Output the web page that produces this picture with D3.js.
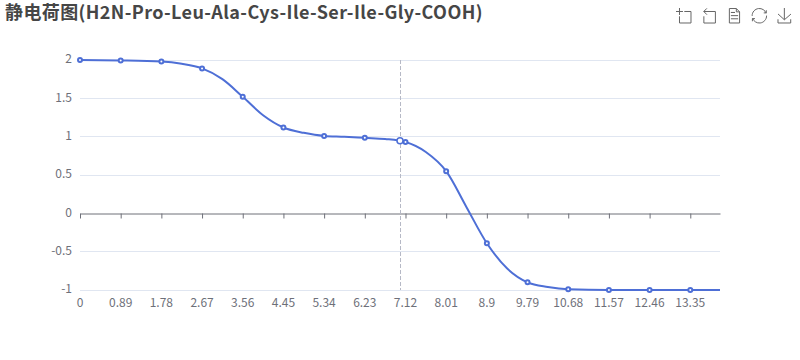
<!DOCTYPE html>
<html>
<head>
<meta charset="utf-8">
<script src="https://cdn.jsdelivr.net/npm/d3@7"></script>
<style>
  html, body { margin: 0; padding: 0; background: #fff; }
  svg { display: block; }
  text { font-family: "Noto Sans CJK SC", "Noto Sans", sans-serif; }
</style>
</head>
<body>
<svg width="800" height="360"></svg>
<script>
var titleText = "静电荷图(H2N-Pro-Leu-Ala-Cys-Ile-Ser-Ile-Gly-COOH)";

// pH positions of the curve
var phValues = [0, 0.89, 1.78, 2.225, 2.67, 3.115, 3.56, 4.005, 4.45, 4.895, 5.34, 5.785, 6.23, 6.675, 7.12, 7.565, 8.01, 8.455, 8.9, 9.345, 9.79, 10.235, 10.68, 11.57, 12.46, 13.35, 14];
var chargeValues = [2, 1.995, 1.98, 1.95, 1.89, 1.75, 1.52, 1.28, 1.12, 1.05, 1.01, 1.0, 0.985, 0.97, 0.93, 0.8, 0.55, 0.08, -0.39, -0.72, -0.9, -0.96, -0.99, -1, -1, -1, -1];

var xTicks = [0, 0.89, 1.78, 2.67, 3.56, 4.45, 5.34, 6.23, 7.12, 8.01, 8.9, 9.79, 10.68, 11.57, 12.46, 13.35];
var yTicks = [2, 1.5, 1, 0.5, 0, -0.5, -1];

var hoverPh = 7;
var hoverCharge = 0.947;

var toolIcons = [
  "M0,13.5h26.9 M13.5,26.9V0 M32.1,13.5H58V58H13.5 V32.1",
  "M22,1.4L9.9,13.5l12.3,12.3 M10.3,13.5H54.9v44.6 H10.3v-26",
  "M17.5,17.3H33 M17.5,17.3H33 M45.4,29.5h-28 M11.5,2v56H51V14.8L38.4,2H11.5z M38.4,2.2v12.7H51 M45.4,41.7h-28",
  "M3.8,33.4 M47,18.9h9.8V8.7 M56.3,20.1 C52.1,9,40.5,0.6,26.8,2.1C12.6,3.7,1.6,16.2,2.1,30.6 M13,41.1H3.1v10.2 M3.7,39.9c4.2,11.1,15.8,19.5,29.5,18 c14.2-1.6,25.2-14.1,24.7-28.5",
  "M4.7,22.9L29.3,45.5L54.7,23.4M4.6,43.6L4.6,58L53.8,58L53.8,43.6M29.2,45.1L29.2,0"
];

var svg = d3.select("svg"),
    plotLeft = 80, plotRight = 720, plotTop = 60, plotBottom = 290,
    lineColor = "#4e6fd6";

var x = d3.scaleLinear().domain([0, 14]).range([plotLeft, plotRight]);
var y = d3.scaleLinear().domain([-1, 2]).range([plotBottom, plotTop]);

svg.append("text")
    .attr("x", 5)
    .attr("y", 19)
    .attr("font-size", 18)
    .attr("font-weight", "bold")
    .attr("letter-spacing", 0.4)
    .attr("fill", "#464646")
    .text(titleText);

// toolbox
svg.selectAll(".tool")
  .data(toolIcons)
  .enter().append("path")
    .attr("class", "tool")
    .attr("d", function(d) { return d; })
    .attr("transform", function(d, i) { return "translate(" + (676 + i * 25.2) + ",8) scale(0.2586)"; })
    .attr("fill", "none")
    .attr("stroke", "#666")
    .attr("stroke-width", 1 / 0.2586);

// grid
svg.selectAll(".grid")
  .data(yTicks.filter(function(d) { return d != 0; }))
  .enter().append("line")
    .attr("class", "grid")
    .attr("x1", plotLeft)
    .attr("x2", plotRight)
    .attr("y1", function(d) { return Math.floor(y(d)) + 0.5; })
    .attr("y2", function(d) { return Math.floor(y(d)) + 0.5; })
    .attr("stroke", "#e0e6f1");

// y labels
svg.selectAll(".ylabel")
  .data(yTicks)
  .enter().append("text")
    .attr("class", "ylabel")
    .attr("x", plotLeft - 8)
    .attr("y", function(d) { return y(d) - 1; })
    .attr("dy", "0.35em")
    .attr("text-anchor", "end")
    .attr("font-size", 12)
    .attr("fill", "#6e7079")
    .text(function(d) { return d; });

// x axis sits on y = 0, the labels stay at the bottom
var axis = svg.append("g")
    .attr("transform", "translate(0," + (Math.floor(y(0)) + 0.5) + ")")
    .call(d3.axisBottom(x).tickValues(xTicks).tickSize(5).tickSizeOuter(0).tickFormat(""));
axis.select(".domain").attr("stroke", "#6e7079");
axis.selectAll("line").attr("stroke", "#6e7079");

svg.selectAll(".xlabel")
  .data(xTicks)
  .enter().append("text")
    .attr("class", "xlabel")
    .attr("x", function(d) { return x(d); })
    .attr("y", plotBottom + 17)
    .attr("text-anchor", "middle")
    .attr("font-size", 12)
    .attr("fill", "#6e7079")
    .text(function(d) { return d; });

// hover pointer
svg.append("line")
    .attr("x1", Math.round(x(hoverPh)) + 0.5)
    .attr("x2", Math.round(x(hoverPh)) + 0.5)
    .attr("y1", plotTop)
    .attr("y2", plotBottom)
    .attr("stroke", "#b6b9c6")
    .attr("stroke-dasharray", "4,2");

var line = d3.line()
    .x(function(d, i) { return x(phValues[i]); })
    .y(function(d) { return y(d); })
    .curve(d3.curveMonotoneX);

svg.append("path")
    .datum(chargeValues)
    .attr("d", line)
    .attr("fill", "none")
    .attr("stroke", lineColor)
    .attr("stroke-width", 2);

var marks = phValues.map(function(p, i) { return {p: p, v: chargeValues[i]}; })
    .filter(function(d) { return xTicks.indexOf(d.p) >= 0; });

svg.selectAll(".dot")
  .data(marks)
  .enter().append("circle")
    .attr("class", "dot")
    .attr("cx", function(d) { return x(d.p); })
    .attr("cy", function(d) { return y(d.v); })
    .attr("r", 2)
    .attr("fill", "#fff")
    .attr("stroke", lineColor)
    .attr("stroke-width", 2);

svg.append("circle")
    .attr("cx", x(hoverPh))
    .attr("cy", y(hoverCharge))
    .attr("r", 3)
    .attr("fill", "#fff")
    .attr("stroke", lineColor)
    .attr("stroke-width", 1.5);
</script>
</body>
</html>
